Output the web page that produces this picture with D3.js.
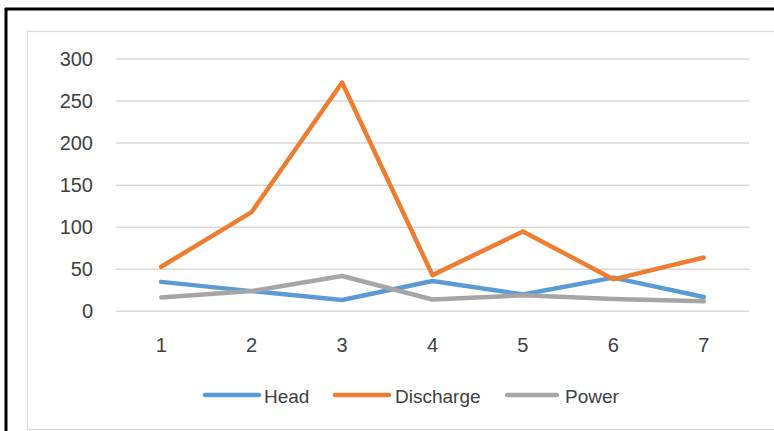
<!DOCTYPE html>
<html><head><meta charset="utf-8">
<script src="https://cdn.jsdelivr.net/npm/d3@7"></script>
<style>body{margin:0;background:#fff;}svg{display:block;}</style>
</head><body>
<svg id="c" width="774" height="431"></svg>
<script>
const categories = ["1","2","3","4","5","6","7"];
const head = [35, 24, 13.5, 36, 20, 40, 17];
const discharge = [53, 118, 272, 43, 95, 38, 64];
const power = [16.5, 24, 42, 14, 19, 14.5, 12];
const yTicks = [0, 50, 100, 150, 200, 250, 300];
const seriesNames = ["Head", "Discharge", "Power"];
const seriesColors = ["#5B9BD5", "#ED7D31", "#A5A5A5"];

const svg = d3.select("#c");
const font = "'Liberation Sans', Arial, sans-serif";
const textColor = "#404040";

// outer black frame (top & left)
svg.append("rect").attr("x", 0).attr("y", 0).attr("width", 774).attr("height", 431).attr("fill", "#fff");
svg.append("line").attr("x1", 5).attr("x2", 774).attr("y1", 9).attr("y2", 9).attr("stroke", "#000").attr("stroke-width", 3);
svg.append("line").attr("x1", 6).attr("x2", 6).attr("y1", 8).attr("y2", 431).attr("stroke", "#000").attr("stroke-width", 3);
// chart area border
svg.append("rect").attr("x", 27.5).attr("y", 31.5).attr("width", 760).attr("height", 398)
  .attr("fill", "#fff").attr("stroke", "#d9d9d9").attr("stroke-width", 1.2);

const plotLeft = 116, plotRight = 749;
const x = d3.scaleBand().domain(categories).range([plotLeft, plotRight]);
const y = d3.scaleLinear().domain([0, 300]).range([311.3, 59]);

// gridlines
svg.append("g").selectAll("line").data(yTicks).join("line")
  .attr("x1", plotLeft).attr("x2", plotRight)
  .attr("y1", d => y(d)).attr("y2", d => y(d))
  .attr("stroke", "#d9d9d9").attr("stroke-width", 1.5);

// y axis labels
const yAxis = d3.axisLeft(y).tickValues(yTicks).tickSize(0).tickPadding(0);
const gy = svg.append("g").attr("transform", "translate(93,0)").call(yAxis);
gy.select(".domain").remove();
gy.selectAll("text").attr("font-family", font).attr("font-size", 20).attr("fill", textColor);

// x axis labels
const xAxis = d3.axisBottom(x).tickSize(0).tickPadding(0);
const gx = svg.append("g").attr("transform", "translate(0,333)").call(xAxis);
gx.select(".domain").remove();
gx.selectAll("text").attr("font-family", font).attr("font-size", 20).attr("fill", textColor).attr("dy", "0.95em");

const line = d3.line().x((d, i) => x(categories[i]) + x.bandwidth() / 2).y(d => y(d));
const data = [head, discharge, power];
// draw order: Head, Discharge, Power (power on top)
data.forEach((s, i) => {
  svg.append("path").datum(s).attr("d", line)
    .attr("fill", "none").attr("stroke", seriesColors[i]).attr("stroke-width", 4.5)
    .attr("stroke-linejoin", "round").attr("stroke-linecap", "round");
});

// legend
const legendItems = [
  {x1: 205, x2: 259, tx: 264},
  {x1: 335, x2: 389, tx: 395},
  {x1: 507, x2: 557, tx: 565}
];
const lg = svg.append("g");
seriesNames.forEach((n, i) => {
  const it = legendItems[i];
  lg.append("line").attr("x1", it.x1).attr("x2", it.x2).attr("y1", 395).attr("y2", 395)
    .attr("stroke", seriesColors[i]).attr("stroke-width", 4.5).attr("stroke-linecap", "round");
  lg.append("text").attr("x", it.tx).attr("y", 402.5).text(n)
    .attr("font-family", font).attr("font-size", 19).attr("fill", textColor);
});
</script>
</body></html>
